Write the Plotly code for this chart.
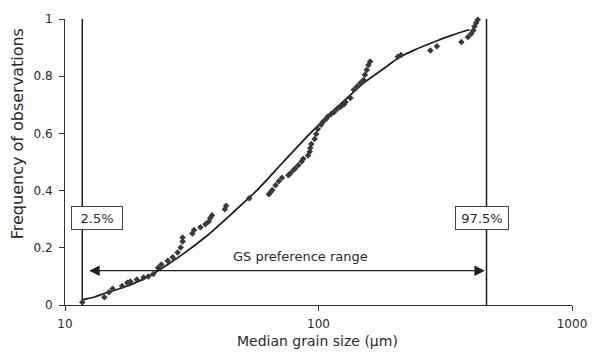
import numpy as np
import plotly.graph_objects as go

# Observed median grain size (µm) and cumulative frequency of observations
grain_size = [11.7, 14.3, 14.9, 15.4, 16.8, 17.6, 18.1, 19.2, 20.4, 21.3, 22.3, 23.3, 24.0,
              25.4, 26.6, 27.8, 28.6, 29.1, 29.1, 31.8, 32.3, 34.2, 35.8, 36.9, 37.4, 38.0,
              42.7, 43.2, 53.3, 63.7, 64.7, 65.7, 67.7, 69.7, 71.8, 76.1, 77.3, 79.6, 80.8,
              83.2, 85.8, 87.0, 90.9, 92.3, 92.8, 93.7, 96.5, 98.0, 99.4, 102.4, 104.0, 107.1,
              108.6, 111.9, 115.3, 118.7, 122.4, 126.0, 127.9, 133.7, 137.7, 141.8, 146.2,
              150.5, 152.5, 155.0, 157.4, 159.8, 205.5, 211.6, 276.3, 293.3, 366.2, 388.7,
              400.3, 408.0, 412.2, 418.4, 424.8]
frequency = [0.010, 0.027, 0.045, 0.057, 0.066, 0.078, 0.082, 0.089, 0.096, 0.100, 0.108, 0.130,
             0.142, 0.155, 0.167, 0.184, 0.201, 0.222, 0.236, 0.250, 0.262, 0.272, 0.282, 0.292,
             0.304, 0.314, 0.335, 0.347, 0.373, 0.387, 0.394, 0.402, 0.419, 0.433, 0.445, 0.454,
             0.460, 0.471, 0.477, 0.489, 0.502, 0.511, 0.523, 0.536, 0.549, 0.563, 0.580, 0.598,
             0.615, 0.630, 0.640, 0.650, 0.658, 0.667, 0.675, 0.686, 0.693, 0.701, 0.710, 0.724,
             0.753, 0.764, 0.776, 0.787, 0.805, 0.822, 0.839, 0.851, 0.868, 0.874, 0.890, 0.905,
             0.920, 0.937, 0.948, 0.960, 0.974, 0.986, 0.997]

# Fitted cumulative curve
fit_size = [11.7, 13.06, 14.5, 17.05, 20.0, 23.3, 29.1, 36.3, 45.3, 56.6, 72.6, 92.3, 111.9,
            131.7, 150.5, 179.8, 208.6, 241.0, 280.5, 326.0, 377.1, 394.3]
fit_freq = [0.018, 0.028, 0.042, 0.062, 0.087, 0.120, 0.177, 0.242, 0.318, 0.397, 0.500, 0.598,
            0.672, 0.729, 0.776, 0.825, 0.866, 0.893, 0.917, 0.939, 0.958, 0.963]

# Preference range bounds
lower_bound = 11.7    # 2.5 %
upper_bound = 460.0   # 97.5 %
arrow_left = 12.3
arrow_right = 453.0
arrow_level = 0.12
range_label = "GS preference range"
label_low = "2.5%"
label_high = "97.5%"

x_ticks = [10, 100, 1000]
x_tick_text = ["10", "100", "1000"]
y_ticks = [0, 0.2, 0.4, 0.6, 0.8, 1]
y_tick_text = ["0", "0.2", "0.4", "0.6", "0.8", "1"]

FONT = "DejaVu Sans"
TXT = "#2a2a2a"
LINE = "#1e1e1e"

fig = go.Figure()

# Vertical bound lines
for b in (lower_bound, upper_bound):
    fig.add_trace(go.Scatter(x=[b, b], y=[0, 1], mode="lines",
                             line=dict(color=LINE, width=1.5),
                             hoverinfo="skip", showlegend=False))

# Fitted curve
fig.add_trace(go.Scatter(x=fit_size, y=fit_freq, mode="lines",
                         line=dict(color=LINE, width=1.8, shape="spline", smoothing=0.6),
                         showlegend=False))

# Observations
fig.add_trace(go.Scatter(x=grain_size, y=frequency, mode="markers",
                         marker=dict(symbol="diamond", size=5, color="#3a3a3a"),
                         cliponaxis=False, showlegend=False))

annotations = [
    # double-headed arrow
    dict(x=np.log10(arrow_right), y=arrow_level, ax=np.log10(arrow_left), ay=arrow_level,
         xref="x", yref="y", axref="x", ayref="y", text="", showarrow=True,
         arrowhead=2, startarrowhead=2, arrowside="end+start", arrowsize=1.6,
         startarrowsize=1.6, arrowwidth=1.3, arrowcolor=LINE),
    dict(x=np.log10(84.8), y=0.169, xref="x", yref="y", text=range_label,
         showarrow=False, font=dict(family=FONT, size=13, color=TXT)),
    dict(x=np.log10(13.4), y=0.303, xref="x", yref="y", text=label_low, showarrow=False,
         font=dict(family=FONT, size=13, color=TXT), bgcolor="white",
         bordercolor="#444", borderwidth=1, borderpad=1, width=48, height=20),
    dict(x=np.log10(442.7), y=0.303, xref="x", yref="y", text=label_high, showarrow=False,
         font=dict(family=FONT, size=13, color=TXT), bgcolor="white",
         bordercolor="#444", borderwidth=1, borderpad=1, width=50, height=20),
    # axis titles
    dict(x=0.499, y=0, xref="paper", yref="paper", xanchor="center", yanchor="middle",
         yshift=-36, text="Median grain size (µm)",
         showarrow=False, font=dict(family=FONT, size=14, color=TXT)),
    dict(x=0, y=0.597, xref="paper", yref="paper", xanchor="center", yanchor="middle",
         xshift=-48, textangle=-90,
         text="Frequency of observations", showarrow=False,
         font=dict(family=FONT, size=16, color=TXT)),
]

fig.update_layout(
    width=599, height=354,
    margin=dict(l=65, r=16, t=15, b=49),
    paper_bgcolor="white", plot_bgcolor="white",
    showlegend=False,
    annotations=annotations,
    font=dict(family=FONT, size=12, color=TXT),
    xaxis=dict(type="log", range=[1, 3], tickvals=x_ticks, ticktext=x_tick_text,
               ticks="outside", ticklen=5, tickcolor="#333", showline=True,
               linecolor="#333", linewidth=1, showgrid=False, zeroline=False,
               ticklabelstandoff=3,
               tickfont=dict(family=FONT, size=12, color=TXT)),
    yaxis=dict(range=[0, 1], tickvals=y_ticks, ticktext=y_tick_text,
               ticks="outside", ticklen=5, tickcolor="#333", showline=True,
               linecolor="#333", linewidth=1, showgrid=False, zeroline=False,
               ticklabelstandoff=4,
               tickfont=dict(family=FONT, size=12, color=TXT)),
)

fig.write_html("out.html")
